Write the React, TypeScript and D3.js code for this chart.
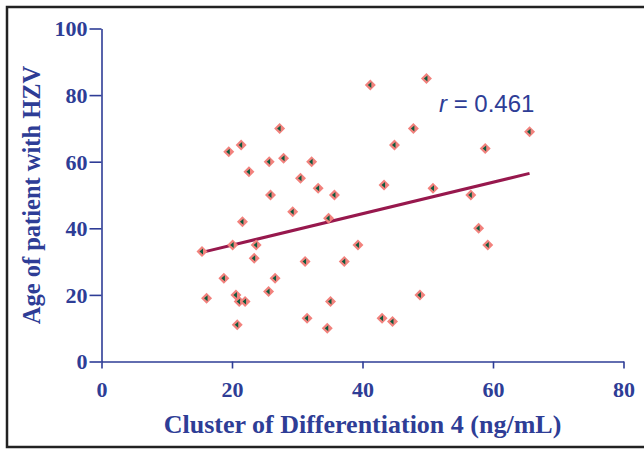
import React, { useEffect, useRef } from 'react';
import * as d3 from 'd3';

// CD4 (ng/mL) vs age of patient
const cd4 = [15.4, 16.1, 18.75, 19.5, 20.1, 20.6, 20.8, 21.1, 21.4, 21.6, 22.0, 22.6, 23.4, 23.7,
  25.6, 25.7, 25.9, 26.6, 27.3, 27.9, 29.3, 30.5, 31.2, 31.5, 32.2, 33.2, 34.6, 34.8, 35.1, 35.7,
  37.2, 39.3, 41.2, 43.0, 43.3, 44.6, 44.9, 47.8, 48.8, 49.8, 50.8, 56.6, 57.8, 58.8, 59.2, 65.6];
const age = [33, 19, 25, 63, 35, 20, 11, 18, 65, 42, 18, 57, 31, 35,
  21, 60, 50, 25, 70, 61, 45, 55, 30, 13, 60, 52, 10, 43, 18, 50,
  30, 35, 83, 13, 53, 12, 65, 70, 20, 85, 52, 50, 40, 64, 35, 69];
const xTicks = [0, 20, 40, 60, 80];
const yTicks = [0, 20, 40, 60, 80, 100];
const rLabel = '0.461';

export default function App() {
  const ref = useRef<SVGSVGElement>(null);

  useEffect(() => {
    const svg = d3.select(ref.current);
    svg.selectAll('*').remove();
    const blue = '#2e3d96';
    const serif = '"Liberation Serif", "Times New Roman", serif';
    const x = d3.scaleLinear().domain([0, 80]).range([101.5, 623.5]);
    const y = d3.scaleLinear().domain([0, 100]).range([361.5, 28.5]);

    // frame
    svg.append('rect')
      .attr('x', 7).attr('y', 7).attr('width', 660).attr('height', 440)
      .attr('fill', 'none').attr('stroke', '#222').attr('stroke-width', 2.5);

    const xAxis = svg.append('g').attr('transform', `translate(0,${y(0)})`)
      .call(d3.axisBottom(x).tickValues(xTicks).tickSize(7).tickSizeOuter(0).tickPadding(13));
    const yAxis = svg.append('g').attr('transform', `translate(${x(0)},0)`)
      .call(d3.axisLeft(y).tickValues(yTicks).tickSize(12).tickSizeOuter(0).tickPadding(2));
    [xAxis, yAxis].forEach(g => {
      g.select('.domain').attr('stroke', blue).attr('stroke-width', 1.6);
      g.selectAll('.tick line').attr('stroke', blue).attr('stroke-width', 1.6);
      g.selectAll('.tick text')
        .attr('fill', blue)
        .style('font-family', serif)
        .style('font-weight', 'bold')
        .style('font-size', '22px');
    });
    yAxis.selectAll('.tick text').attr('dy', '0.34em');

    // regression line
    const mx = d3.mean(cd4)!;
    const my = d3.mean(age)!;
    const sxy = d3.sum(cd4, (v, i) => (v - mx) * (age[i] - my));
    const sxx = d3.sum(cd4, v => (v - mx) * (v - mx));
    const slope = sxy / sxx;
    const icpt = my - slope * mx;
    const ext = d3.extent(cd4) as [number, number];
    svg.append('path')
      .datum(ext)
      .attr('d', d3.line<number>().x(d => x(d)).y(d => y(icpt + slope * d)))
      .attr('stroke', '#97184d').attr('stroke-width', 3).attr('fill', 'none');

    // points
    const pts = svg.append('g').selectAll('g')
      .data(cd4.map((v, i) => [v, age[i]]))
      .enter().append('g')
      .attr('transform', d => `translate(${x(d[0])},${y(d[1])})`);
    pts.append('path')
      .attr('d', 'M0,-5.5L5.5,0L0,5.5L-5.5,0Z')
      .attr('fill', '#f2827d');
    pts.append('path')
      .attr('d', 'M-2.5,0L1,-3L1,3Z')
      .attr('fill', '#0d5a3c');

    // r label
    const t = svg.append('text')
      .attr('x', 439).attr('y', 112)
      .attr('fill', blue)
      .style('font-family', '"Liberation Sans", Arial, sans-serif')
      .style('font-size', '24px');
    t.append('tspan').style('font-style', 'italic').text('r');
    t.append('tspan').text(` = ${rLabel}`);

    // axis titles
    svg.append('text')
      .attr('x', 362.5).attr('y', 433)
      .attr('text-anchor', 'middle')
      .attr('fill', blue)
      .style('font-family', serif)
      .style('font-weight', 'bold')
      .style('font-size', '26px')
      .text('Cluster of Differentiation 4 (ng/mL)');
    svg.append('text')
      .attr('transform', `translate(40,${(68 + 322) / 2}) rotate(-90)`)
      .attr('text-anchor', 'middle')
      .attr('fill', blue)
      .style('font-family', serif)
      .style('font-weight', 'bold')
      .style('font-size', '24.5px')
      .text('Age of patient with HZV');
  }, []);

  return (
    <svg ref={ref} width={644} height={450}
      style={{ position: 'absolute', left: 0, top: 0, background: '#fff' }} />
  );
}
